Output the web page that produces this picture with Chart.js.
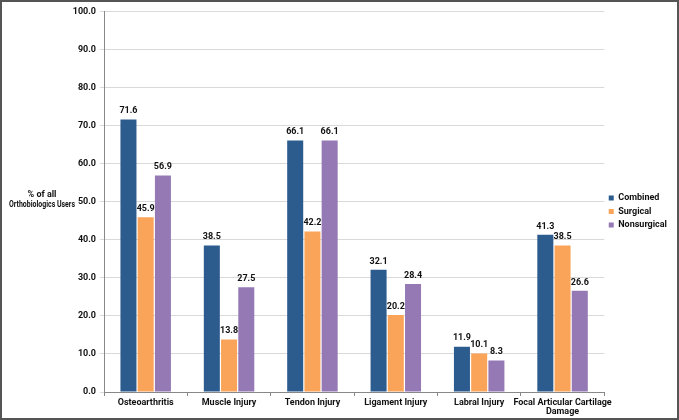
<!DOCTYPE html>
<html>
<head>
<meta charset="utf-8">
<script src="https://cdn.jsdelivr.net/npm/chart.js@4/dist/chart.umd.min.js"></script>
<style>
  html, body { margin: 0; padding: 0; background: #fff; }
  #wrap { width: 679px; height: 420px; box-sizing: border-box; border: 2px solid #555; position: relative; }
  canvas { display: block; }
</style>
</head>
<body>
<div id="wrap"><canvas id="chart" width="675" height="416"></canvas></div>
<script>
const categories = [
  "Osteoarthritis",
  "Muscle Injury",
  "Tendon Injury",
  "Ligament Injury",
  "Labral Injury",
  ["Focal Articular Cartilage", "Damage"],
];
const combined = [71.6, 38.5, 66.1, 32.1, 11.9, 41.3];
const surgical = [45.9, 13.8, 42.2, 20.2, 10.1, 38.5];
const nonsurgical = [56.9, 27.5, 66.1, 28.4, 8.3, 26.6];
const yTitle = ["% of all", "Orthobiologics Users"];

const FONT = "Roboto, 'Open Sans', sans-serif";

// values above each bar
const valueLabels = {
  id: "valueLabels",
  afterDatasetsDraw(chart) {
    const ctx = chart.ctx;
    ctx.save();
    ctx.font = "bold 9px " + FONT;
    ctx.fillStyle = "#111";
    ctx.textAlign = "center";
    ctx.textBaseline = "bottom";
    chart.data.datasets.forEach((ds, i) => {
      chart.getDatasetMeta(i).data.forEach((bar, j) => {
        ctx.fillText(ds.data[j].toFixed(1), bar.x, bar.y - 4);
      });
    });
    ctx.restore();
  },
};

// horizontal y axis title on the left
const sideTitle = {
  id: "sideTitle",
  afterDraw(chart) {
    const ctx = chart.ctx;
    ctx.save();
    ctx.font = "bold 9px " + FONT;
    ctx.fillStyle = "#111";
    ctx.textAlign = "center";
    ctx.textBaseline = "middle";
    yTitle.forEach((line, k) => {
      ctx.fillText(line, 40, 193 + k * 9.5, 66);
    });
    ctx.restore();
  },
};

new Chart(document.getElementById("chart"), {
  type: "bar",
  data: {
    labels: categories,
    datasets: [
      { label: "Combined", data: combined, backgroundColor: "#2C5B8E" },
      { label: "Surgical", data: surgical, backgroundColor: "#F9A458" },
      { label: "Nonsurgical", data: nonsurgical, backgroundColor: "#9479B5" },
    ],
  },
  options: {
    responsive: false,
    animation: false,
    layout: { padding: { top: 3, right: 0, bottom: 0, left: 0 } },
    datasets: {
      bar: { categoryPercentage: 0.62, barPercentage: 0.93 },
    },
    plugins: {
      tooltip: { enabled: false },
      legend: {
        position: "right",
        labels: {
          boxWidth: 5,
          boxHeight: 5,
          padding: 4.5,
          color: "#111",
          font: { family: FONT, size: 9, weight: "bold" },
        },
      },
    },
    scales: {
      x: {
        grid: { display: true, drawOnChartArea: false, color: "#888", tickLength: 4, offset: true },
        border: { color: "#888" },
        ticks: {
          color: "#111",
          maxRotation: 0,
          autoSkip: false,
          padding: 2,
          font: { family: FONT, size: 9, weight: "bold", lineHeight: 1.0 },
        },
      },
      y: {
        min: 0,
        max: 100,
        afterFit(scale) { scale.width = 102; },
        grid: { color: "#d9d9d9", tickLength: 4 },
        border: { color: "#888" },
        ticks: {
          stepSize: 10,
          color: "#111",
          padding: 4,
          font: { family: FONT, size: 9, weight: "bold" },
          callback: (v) => v.toFixed(1),
        },
      },
    },
  },
  plugins: [valueLabels, sideTitle],
});
</script>
</body>
</html>
